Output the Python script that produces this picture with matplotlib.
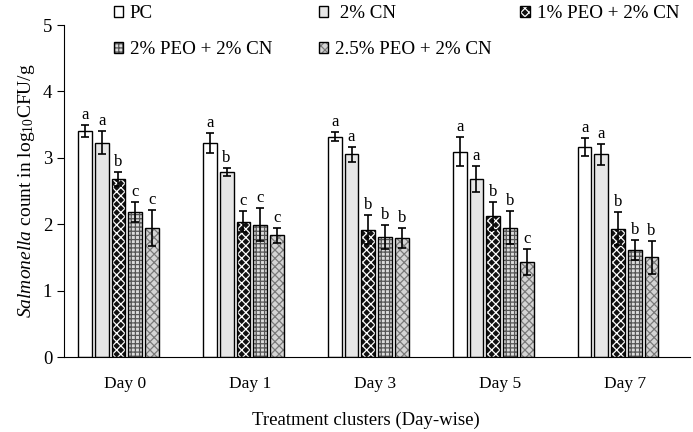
import numpy as np
import matplotlib
matplotlib.use("Agg")
import matplotlib.pyplot as plt
from matplotlib.colors import to_rgba

plt.rcParams['font.family'] = ['Liberation Serif', 'DejaVu Serif']
plt.rcParams['mathtext.fontset'] = 'custom'
plt.rcParams['mathtext.rm'] = 'Liberation Serif'
plt.rcParams['mathtext.it'] = 'Liberation Serif:italic'
plt.rcParams['hatch.linewidth'] = 0.9

days = ["Day 0", "Day 1", "Day 3", "Day 5", "Day 7"]
treatments = ["PC", " 2% CN", "1% PEO + 2% CN", "2% PEO + 2% CN", "2.5% PEO + 2% CN"]

# mean counts per treatment (rows) for each day (columns)
means = [
    [3.40, 3.22, 3.32, 3.09, 3.16],
    [3.23, 2.79, 3.05, 2.68, 3.05],
    [2.68, 2.04, 1.92, 2.13, 1.93],
    [2.19, 1.99, 1.81, 1.95, 1.61],
    [1.94, 1.83, 1.79, 1.43, 1.50],
]
errors = [
    [0.09, 0.15, 0.07, 0.22, 0.14],
    [0.18, 0.06, 0.11, 0.20, 0.16],
    [0.11, 0.16, 0.22, 0.21, 0.25],
    [0.15, 0.25, 0.18, 0.25, 0.15],
    [0.27, 0.12, 0.15, 0.19, 0.25],
]
letters = [
    ["a", "a", "a", "a", "a"],
    ["a", "b", "a", "a", "a"],
    ["b", "c", "b", "b", "b"],
    ["c", "c", "b", "b", "b"],
    ["c", "c", "b", "c", "b"],
]

facecolors = ["white", "#e6e6e6", "#111111", "#dcdcdc", "#d4d4d4"]
hatches = [None, None, "xxxx", "++++", "xxxx"]
hatchcolors = ["black", "black", "white", "#555555", "#7a7a7a"]

fig = plt.figure(figsize=(6.93, 4.32), dpi=100)
ax = fig.add_axes([0.0924, 0.1736, 0.9033, 0.7685])

x = np.arange(len(days))
slot = 0.134
width = 0.11
bars = []
for i in range(len(treatments)):
    pos = x + (i - 2) * slot
    b = ax.bar(pos, means[i], width, yerr=errors[i], color=facecolors[i],
               edgecolor="black", linewidth=1.0, hatch=hatches[i],
               error_kw=dict(ecolor="black", elinewidth=1.2, capsize=3, capthick=1.2),
               label=treatments[i])
    if hatches[i]:
        for r in b.patches:
            r._hatch_color = to_rgba(hatchcolors[i])
    bars.append(b)
    for j in range(len(days)):
        ax.text(pos[j], means[i][j] + errors[i][j] + 0.03, letters[i][j],
                ha="center", va="bottom", fontsize=12)

ax.set_xlim(-0.436, 4.576)
ax.set_ylim(0, 5)
ax.set_yticks(range(6))
ax.set_xticks(x + 0.056)
ax.set_xticklabels(days)
ax.tick_params(axis="y", labelsize=13.5, direction="out", length=5)
ax.tick_params(axis="x", labelsize=12.5, length=0, pad=14)
ax.spines["top"].set_visible(False)
ax.spines["right"].set_visible(False)
ax.set_ylabel(r"$\it{Salmonella}$ count in log$_{10}$CFU/g", fontsize=14)
ax.set_xlabel("Treatment clusters (Day-wise)", fontsize=13.5)
ax.xaxis.set_label_coords(0.482, -0.165)

# legend laid out in fixed columns, like the original
columns = [[0, 3], [1, 4], [2]]
col_x = [0.164, 0.46, 0.751]
for cols, cx in zip(columns, col_x):
    fig.legend([bars[k] for k in cols], [treatments[k] for k in cols],
               loc="upper left", bbox_to_anchor=(cx, 0.988), frameon=False,
               fontsize=13.7, handlelength=0.5, handleheight=0.5,
               handletextpad=0.35, labelspacing=1.0, borderpad=0,
               borderaxespad=0)

fig.savefig("out.png", dpi=100)
